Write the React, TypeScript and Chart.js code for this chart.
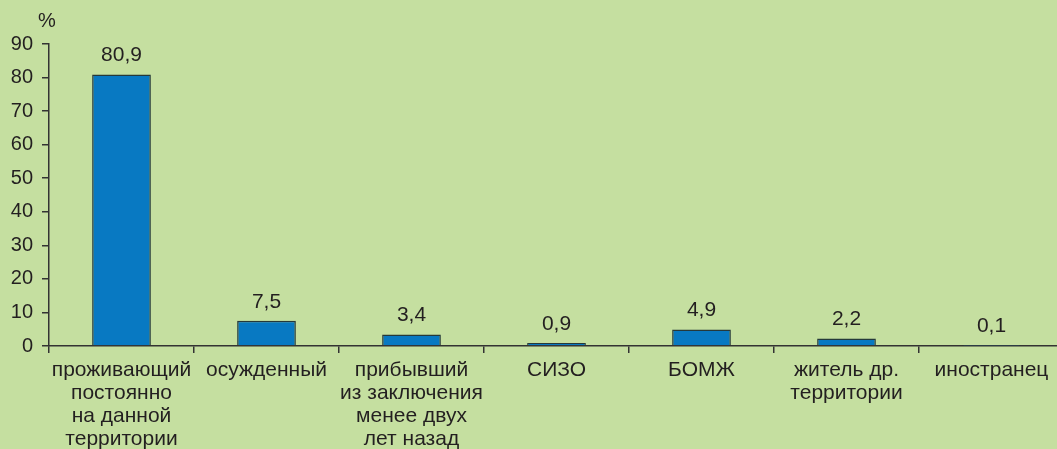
import React, { useEffect, useRef } from "react";
import { Chart, registerables } from "chart.js";

Chart.register(...registerables);

const categories: string[][] = [
  ["проживающий", "постоянно", "на данной", "территории"],
  ["осужденный"],
  ["прибывший", "из заключения", "менее двух", "лет назад"],
  ["СИЗО"],
  ["БОМЖ"],
  ["житель др.", "территории"],
  ["иностранец"],
];
const values: number[] = [80.9, 7.5, 3.4, 0.9, 4.9, 2.2, 0.1];
const yTicks: number[] = [0, 10, 20, 30, 40, 50, 60, 70, 80, 90];

const BG = "#c5dfa0";
const TEXT = "#231f20";
const FONT = "'Liberation Sans', Arial, sans-serif";
const W = 1064;
const H = 470;

export default function App() {
  const ref = useRef<HTMLCanvasElement | null>(null);
  useEffect(() => {
    if (!ref.current) return;
    const labelPlugin = {
      id: "valueLabels",
      afterDatasetsDraw(chart: any) {
        const ctx = chart.ctx;
        const meta = chart.getDatasetMeta(0);
        ctx.save();
        ctx.fillStyle = TEXT;
        ctx.font = `21px ${FONT}`;
        ctx.textAlign = "center";
        ctx.textBaseline = "middle";
        meta.data.forEach((bar: any, i: number) => {
          const v = values[i];
          ctx.fillText(v.toFixed(1).replace(".", ","), bar.x, bar.y - 19);
        });
        // percent sign above y axis
        const ys = chart.scales.y;
        ctx.font = `20px ${FONT}`;
        ctx.fillText("%", ys.right - 2, ys.getPixelForValue(90) - 23);
        ctx.restore();
      },
    };
    const chart = new Chart(ref.current, {
      type: "bar",
      data: {
        labels: categories,
        datasets: [
          {
            data: values,
            backgroundColor: "#0879c2",
            borderColor: "#25393a",
            borderWidth: 1.5,
            barPercentage: 0.405,
            categoryPercentage: 1,
          },
        ],
      },
      options: {
        responsive: false,
        animation: false,
        layout: { padding: { top: 44, right: 0, bottom: 0, left: 0 } },
        plugins: {
          legend: { display: false },
          tooltip: { enabled: false },
        },
        scales: {
          x: {
            offset: true,
            grid: {
              offset: true,
              drawOnChartArea: false,
              drawTicks: true,
              tickLength: 7,
              color: "#333",
              lineWidth: 1.5,
            },
            border: { color: "#333", width: 1.5 },
            ticks: {
              color: TEXT,
              font: { family: FONT, size: 21, lineHeight: 1.095 },
              autoSkip: false,
              maxRotation: 0,
              minRotation: 0,
              padding: 6,
            },
            afterFit(scale: any) {
              scale.height = H - 346;
            },
          },
          y: {
            min: 0,
            max: 90,
            afterBuildTicks(scale: any) {
              scale.ticks = yTicks.map((v) => ({ value: v }));
            },
            grid: {
              drawOnChartArea: false,
              drawTicks: true,
              tickLength: 7,
              color: "#333",
              lineWidth: 1.5,
            },
            border: { color: "#333", width: 1.5 },
            ticks: {
              color: TEXT,
              font: { family: FONT, size: 20 },
              padding: 9,
            },
            afterFit(scale: any) {
              scale.width = 49;
            },
          },
        },
      },
      plugins: [labelPlugin],
    });
    return () => chart.destroy();
  }, []);
  return (
    <div
      style={{
        position: "fixed",
        left: 0,
        top: 0,
        width: 1057,
        height: 449,
        overflow: "hidden",
        background: BG,
      }}
    >
      <canvas ref={ref} width={W} height={H} style={{ display: "block", width: W, height: H }} />
    </div>
  );
}
